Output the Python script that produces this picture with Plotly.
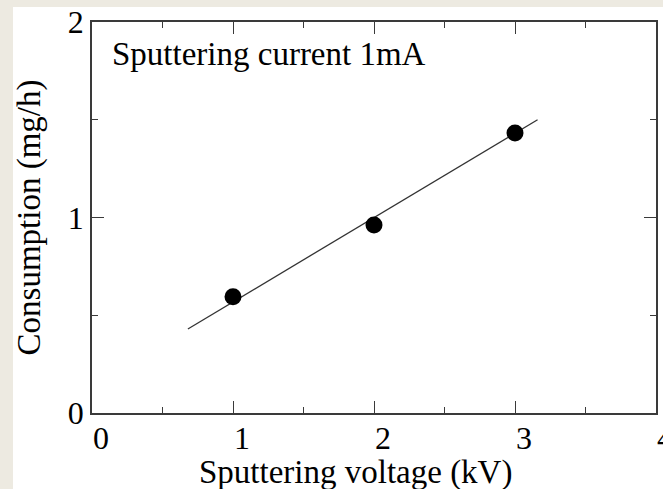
import plotly.graph_objects as go

# Data
voltage_kv = [1, 2, 3]
consumption_mgh = [0.595, 0.962, 1.432]
fit_x = [0.68, 3.16]
fit_y = [0.43, 1.50]
x_ticks = [0, 1, 2, 3, 4]
y_ticks = [0, 1, 2]

FONT = "Liberation Serif, Times New Roman, serif"
AX = "#3a3a3a"

fig = go.Figure()
fig.add_trace(go.Scatter(x=fit_x, y=fit_y, mode="lines",
                         line=dict(color="#333333", width=1.3),
                         showlegend=False, hoverinfo="skip"))
fig.add_trace(go.Scatter(x=voltage_kv, y=consumption_mgh, mode="markers",
                         marker=dict(color="black", size=17),
                         showlegend=False))

W, H = 663, 489
L, R, T, B = 92, 7, 22, 76
pw = W - L - R
ph = H - T - B

# white panel over the beige page
fig.add_shape(type="rect", xref="paper", yref="paper", layer="below",
              x0=(13 - L) / pw, x1=(W - L) / pw,
              y0=-(H - T - ph) / ph - 0.01, y1=(ph + T - 7) / ph,
              fillcolor="white", line=dict(width=0))

axis_common = dict(
    showline=True, linecolor=AX, linewidth=1.5, mirror="ticks",
    ticks="inside", ticklen=12, tickwidth=1.3, tickcolor=AX,
    showgrid=False, zeroline=False,
    minor=dict(ticks="inside", ticklen=6, dtick=0.5, tickwidth=1.3, tickcolor=AX, showgrid=False),
    tickfont=dict(family=FONT, size=32, color="black"),
)

fig.update_xaxes(range=[0, 4], tickvals=x_ticks, ticktext=[str(v) for v in x_ticks],
                 ticklabelshift=9, ticklabelstandoff=-4, ticklabeloverflow="allow",
                 **axis_common)
fig.update_yaxes(range=[0, 2], tickvals=y_ticks, ticktext=[str(v) for v in y_ticks],
                 title=dict(text="Consumption (mg/h)", standoff=17,
                            font=dict(family=FONT, size=33, color="black")),
                 **axis_common)

# x-axis title (placed as annotation to match its off-centre position)
fig.add_annotation(x=(355 - L) / pw, y=0, xref="paper", yref="paper",
                   yshift=-59, xanchor="center", yanchor="middle", showarrow=False,
                   text="Sputtering voltage (kV)",
                   font=dict(family=FONT, size=33, color="black"))

fig.add_annotation(x=0, y=1, xref="paper", yref="paper",
                   xshift=18, yshift=-12,
                   xanchor="left", yanchor="top", showarrow=False,
                   text="Sputtering current 1mA",
                   font=dict(family=FONT, size=33, color="black"))

fig.update_layout(width=W, height=H,
                  margin=dict(l=L, r=R, t=T, b=B, autoexpand=False),
                  paper_bgcolor="#EDEAE1", plot_bgcolor="white")

fig.write_html("out.html")
